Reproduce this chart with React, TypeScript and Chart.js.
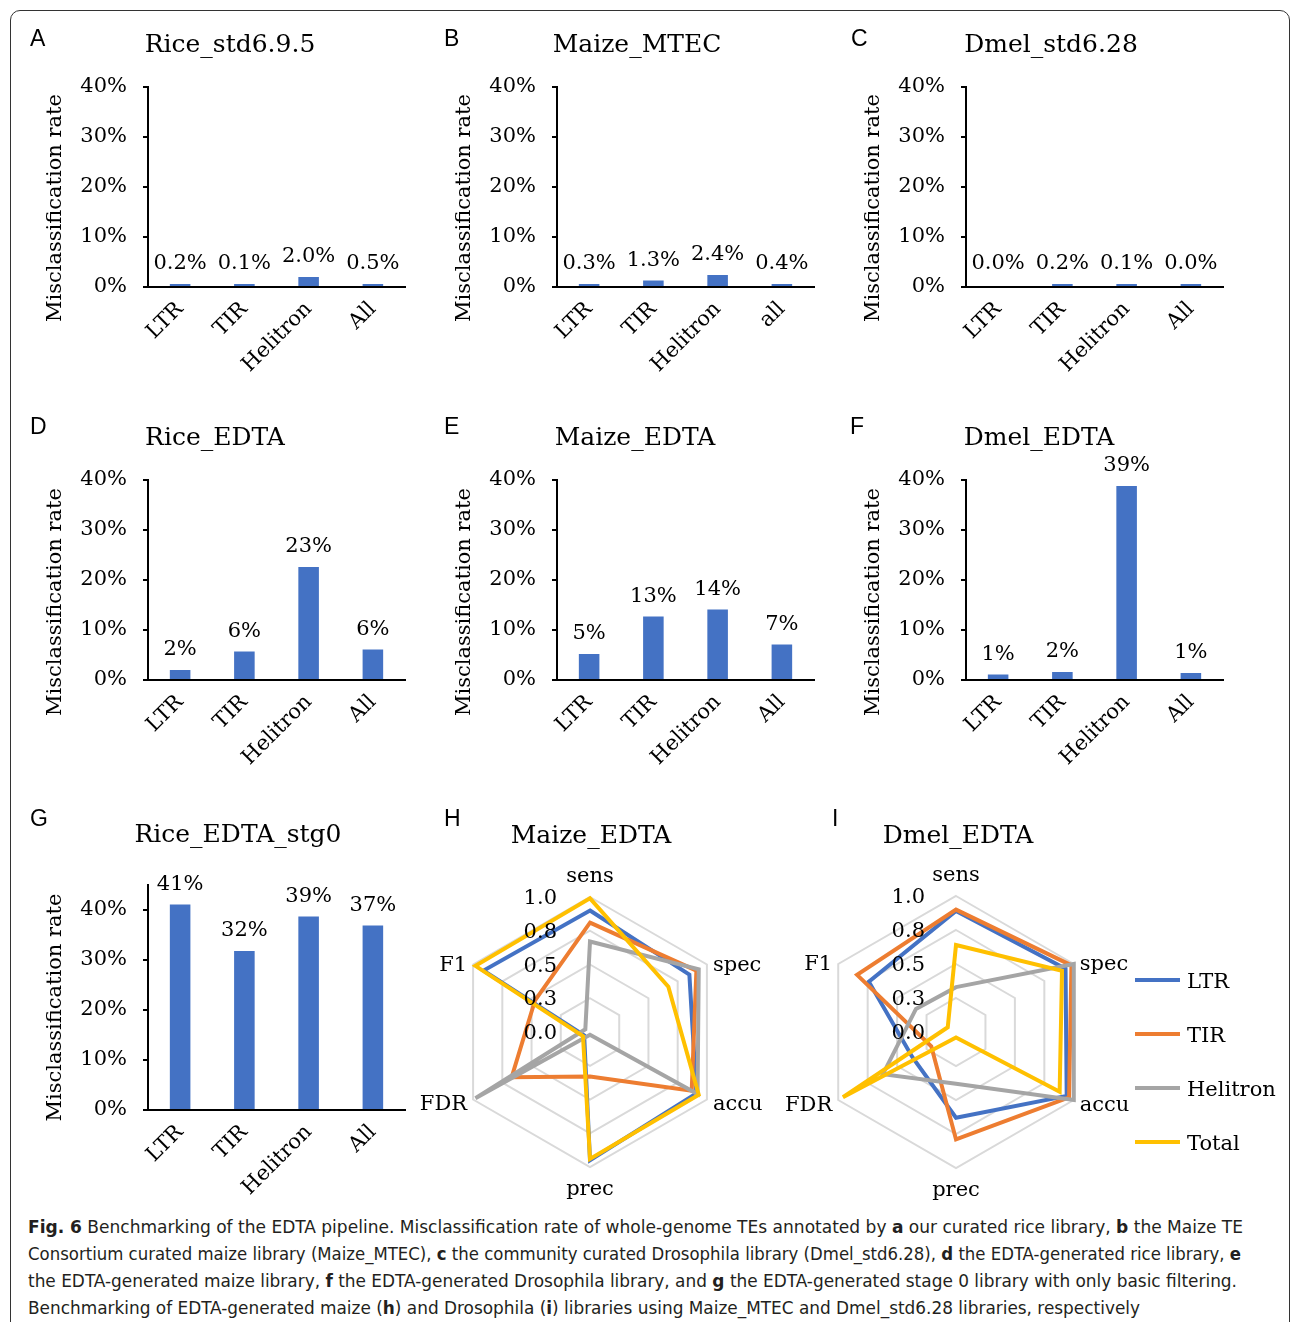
import React, { useEffect, useLayoutEffect, useRef } from "react";
import { Chart, registerables } from "chart.js";

Chart.register(...registerables);

const SERIF = '"DejaVu Serif", serif';
const SANS = '"Liberation Sans", Arial, sans-serif';
const CAPTION_FONT = '"Liberation Sans Narrow", "DejaVu Sans Condensed", "DejaVu Sans", sans-serif';
const BAR_BLUE = "#4472C4";

// ---------------- data ----------------
const categories = ["LTR", "TIR", "Helitron", "All"];
const categoriesMTEC = ["LTR", "TIR", "Helitron", "all"];

const riceStd695 = [0.2, 0.1, 2.0, 0.5];
const maizeMTEC = [0.3, 1.3, 2.4, 0.4];
const dmelStd628 = [0.0, 0.2, 0.1, 0.04];
const riceEDTA = [2.0, 5.7, 22.6, 6.1];
const maizeEDTA = [5.2, 12.7, 14.1, 7.1];
const dmelEDTA = [1.1, 1.6, 38.8, 1.4];
const riceEDTAstg0 = [41.1, 31.8, 38.7, 36.9];

const radarAxes = ["sens", "spec", "accu", "prec", "FDR", "F1"];
const radarSeries = ["LTR", "TIR", "Helitron", "Total"];
const radarColors = ["#4472C4", "#ED7D31", "#A5A5A5", "#FFC000"];
const radarTickStep = 0.25;

const maizeRadarLTR = [0.9, 0.85, 0.91, 0.95, 0.05, 0.91];
const maizeRadarTIR = [0.81, 0.91, 0.87, 0.33, 0.67, 0.47];
const maizeRadarHelitron = [0.67, 0.93, 0.92, 0.02, 0.98, 0.04];
const maizeRadarTotal = [0.99, 0.67, 0.93, 0.94, 0.06, 0.98];

const dmelRadarLTR = [0.89, 0.93, 0.94, 0.63, 0.37, 0.74];
const dmelRadarTIR = [0.9, 0.98, 0.96, 0.79, 0.21, 0.84];
const dmelRadarHelitron = [0.33, 1.0, 1.0, 0.38, 0.62, 0.34];
const dmelRadarTotal = [0.64, 0.9, 0.88, 0.04, 0.96, 0.07];

// ---------------- plugins ----------------
const barLabelPlugin = {
  id: "barLabels",
  afterDatasetsDraw(chart: any, _args: any, opts: any) {
    const { ctx } = chart;
    const meta = chart.getDatasetMeta(0);
    const ds = chart.data.datasets[0];
    ctx.save();
    ctx.font = `21px ${SERIF}`;
    ctx.fillStyle = "#000";
    ctx.textAlign = "center";
    ctx.textBaseline = "alphabetic";
    meta.data.forEach((bar: any, i: number) => {
      const v = ds.data[i] as number;
      ctx.fillText(v.toFixed(opts.decimals) + "%", bar.x, bar.y - opts.gap);
    });
    ctx.restore();
  },
};

const yTitlePlugin = {
  id: "yTitle",
  afterDraw(chart: any, _args: any, opts: any) {
    const { ctx, chartArea } = chart;
    ctx.save();
    ctx.translate(opts.x, (chartArea.top + chartArea.bottom) / 2 + opts.dy);
    ctx.rotate(-Math.PI / 2);
    ctx.font = `21px ${SERIF}`;
    ctx.fillStyle = "#000";
    ctx.textAlign = "center";
    ctx.textBaseline = "middle";
    ctx.fillText(opts.text, 0, 0);
    ctx.restore();
  },
};

const radarDecorPlugin = {
  id: "radarDecor",
  afterDatasetsDraw(chart: any, _args: any, opts: any) {
    const { ctx } = chart;
    const scale = chart.scales.r;
    const xc = scale.xCenter;
    const yc = scale.yCenter;
    ctx.save();
    ctx.font = `21px ${SERIF}`;
    ctx.fillStyle = "#000";
    // tick labels
    ctx.textAlign = "right";
    ctx.textBaseline = "alphabetic";
    scale.ticks.forEach((t: any) => {
      const d = scale.getDistanceFromCenterForValue(t.value);
      ctx.fillText(t.value.toFixed(1), xc - opts.tickOffset, yc - d + 7);
    });
    // point labels
    (chart.data.labels as string[]).forEach((lbl, i) => {
      const p = scale.getPointPosition(i, scale.drawingArea);
      const dx = p.x - xc;
      if (Math.abs(dx) < 1) {
        ctx.textAlign = "center";
        if (p.y < yc) ctx.fillText(lbl, p.x, p.y - 15);
        else ctx.fillText(lbl, p.x, p.y + 28);
      } else {
        ctx.textAlign = dx > 0 ? "left" : "right";
        const yOff = p.y < yc ? 6 : 10.5;
        ctx.fillText(lbl, p.x + (dx > 0 ? 6 : -6), p.y + yOff);
      }
    });
    // legend
    if (opts.legend) {
      const { x, y, step, lineLen, gap } = opts.legend;
      chart.data.datasets.forEach((ds: any, i: number) => {
        const ly = y + i * step;
        ctx.strokeStyle = ds.borderColor;
        ctx.lineWidth = 4;
        ctx.beginPath();
        ctx.moveTo(x, ly);
        ctx.lineTo(x + lineLen, ly);
        ctx.stroke();
        ctx.textAlign = "left";
        ctx.fillText(ds.label, x + lineLen + gap, ly + 8);
      });
    }
    ctx.restore();
  },
};

// ---------------- panels ----------------
type BarCfg = {
  letter: string;
  title: string;
  cats: string[];
  values: number[];
  decimals: number;
  axisX: number;
  top: number;
  height: number;
  padTop: number;
  plotH: number;
  max: number;
  titleCx: number;
  titleBase: number;
  letterX: number;
  letterY: number;
  yTitleDy: number;
};

const barPanels: BarCfg[] = [
  { letter: "A", title: "Rice_std6.9.5", cats: categories, values: riceStd695, decimals: 1, axisX: 148, top: 20, height: 380, padTop: 67, plotH: 200, max: 40, titleCx: 230, titleBase: 52, letterX: 30, letterY: 30, yTitleDy: 21 },
  { letter: "B", title: "Maize_MTEC", cats: categoriesMTEC, values: maizeMTEC, decimals: 1, axisX: 557, top: 20, height: 380, padTop: 67, plotH: 200, max: 40, titleCx: 637, titleBase: 52, letterX: 444, letterY: 30, yTitleDy: 21 },
  { letter: "C", title: "Dmel_std6.28", cats: categories, values: dmelStd628, decimals: 1, axisX: 966, top: 20, height: 380, padTop: 67, plotH: 200, max: 40, titleCx: 1051, titleBase: 52, letterX: 851, letterY: 30, yTitleDy: 21 },
  { letter: "D", title: "Rice_EDTA", cats: categories, values: riceEDTA, decimals: 0, axisX: 148, top: 415, height: 380, padTop: 65, plotH: 200, max: 40, titleCx: 215, titleBase: 445, letterX: 30, letterY: 418, yTitleDy: 22 },
  { letter: "E", title: "Maize_EDTA", cats: categories, values: maizeEDTA, decimals: 0, axisX: 557, top: 415, height: 380, padTop: 65, plotH: 200, max: 40, titleCx: 635, titleBase: 445, letterX: 444, letterY: 418, yTitleDy: 22 },
  { letter: "F", title: "Dmel_EDTA", cats: categories, values: dmelEDTA, decimals: 0, axisX: 966, top: 415, height: 380, padTop: 65, plotH: 200, max: 40, titleCx: 1039, titleBase: 445, letterX: 850, letterY: 418, yTitleDy: 22 },
  { letter: "G", title: "Rice_EDTA_stg0", cats: categories, values: riceEDTAstg0, decimals: 0, axisX: 148, top: 810, height: 395, padTop: 75, plotH: 225, max: 45, titleCx: 238, titleBase: 842, letterX: 30, letterY: 810, yTitleDy: 10 },
];

type RadarCfg = {
  letter: string;
  title: string;
  series: number[][];
  left: number;
  top: number;
  width: number;
  height: number;
  pad: { left: number; top: number; right: number; bottom: number };
  tickOffset: number;
  titleCx: number;
  titleBase: number;
  letterX: number;
  letterY: number;
  legend?: { x: number; y: number; step: number; lineLen: number; gap: number };
};

const radarPanels: RadarCfg[] = [
  {
    letter: "H", title: "Maize_EDTA",
    series: [maizeRadarLTR, maizeRadarTIR, maizeRadarHelitron, maizeRadarTotal],
    left: 410, top: 800, width: 390, height: 400,
    pad: { left: 45, top: 97, right: 75, bottom: 33 },
    tickOffset: 33, titleCx: 591, titleBase: 843, letterX: 444, letterY: 810,
  },
  {
    letter: "I", title: "Dmel_EDTA",
    series: [dmelRadarLTR, dmelRadarTIR, dmelRadarHelitron, dmelRadarTotal],
    left: 770, top: 800, width: 522, height: 400,
    pad: { left: 50, top: 96, right: 200, bottom: 32 },
    tickOffset: 31, titleCx: 958, titleBase: 843, letterX: 832, letterY: 810,
    legend: { x: 365, y: 180, step: 54, lineLen: 45, gap: 7 },
  },
];

const tickFont = { family: SERIF, size: 21 };

function BarPanel({ cfg }: { cfg: BarCfg }) {
  const ref = useRef<HTMLCanvasElement>(null);
  useEffect(() => {
    const xHeight = cfg.height - cfg.padTop - cfg.plotH;
    const chart = new Chart(ref.current as HTMLCanvasElement, {
      type: "bar",
      data: {
        labels: cfg.cats,
        datasets: [
          {
            data: cfg.values,
            backgroundColor: (c: any) => (c.raw > 0 ? BAR_BLUE : "rgba(0,0,0,0)"),
            barPercentage: 0.32,
            categoryPercentage: 1,
            minBarLength: 3,
          },
        ],
      },
      options: {
        responsive: false,
        animation: false,
        devicePixelRatio: 1,
        layout: { padding: { top: cfg.padTop, right: 35, bottom: 0, left: 0 } },
        plugins: {
          legend: { display: false },
          tooltip: { enabled: false },
          title: { display: false },
          barLabels: { decimals: cfg.decimals, gap: 15 },
          yTitle: { text: "Misclassification rate", x: 36, dy: cfg.yTitleDy },
        } as any,
        scales: {
          x: {
            grid: { display: false },
            border: { color: "#000", width: 2 },
            ticks: { font: tickFont, color: "#000", minRotation: 45, maxRotation: 45, autoSkip: false, padding: 2 },
            afterFit: (s: any) => {
              s.height = xHeight;
            },
          },
          y: {
            min: 0,
            max: cfg.max,
            grid: { drawOnChartArea: false, drawTicks: true, tickLength: 5, color: "#000", lineWidth: 2 },
            border: { color: "#000", width: 2 },
            ticks: {
              stepSize: 10,
              includeBounds: false,
              padding: 16,
              font: tickFont,
              color: "#000",
              callback: (v: any) => `${v}%`,
            },
            afterFit: (s: any) => {
              s.width = 128;
            },
          },
        },
      } as any,
      plugins: [barLabelPlugin, yTitlePlugin],
    });
    return () => chart.destroy();
  }, []);
  return (
    <canvas
      ref={ref}
      width={420}
      height={cfg.height}
      style={{ position: "absolute", left: cfg.axisX - 128, top: cfg.top, width: 420, height: cfg.height }}
    />
  );
}

function RadarPanel({ cfg }: { cfg: RadarCfg }) {
  const ref = useRef<HTMLCanvasElement>(null);
  useEffect(() => {
    const chart = new Chart(ref.current as HTMLCanvasElement, {
      type: "radar",
      data: {
        labels: radarAxes,
        datasets: cfg.series.map((vals, i) => ({
          label: radarSeries[i],
          data: vals,
          borderColor: radarColors[i],
          backgroundColor: radarColors[i],
          borderWidth: 4,
          pointRadius: 0,
          fill: false,
          tension: 0,
          order: radarSeries.length - i,
        })),
      },
      options: {
        responsive: false,
        animation: false,
        devicePixelRatio: 1,
        layout: { padding: cfg.pad },
        plugins: {
          legend: { display: false },
          tooltip: { enabled: false },
          radarDecor: { tickOffset: cfg.tickOffset, legend: cfg.legend },
        } as any,
        scales: {
          r: {
            min: 0,
            max: 1,
            ticks: { display: false, stepSize: radarTickStep },
            grid: { color: "#D9D9D9", lineWidth: 2 },
            angleLines: { display: false },
            pointLabels: { display: false },
          },
        },
      } as any,
      plugins: [radarDecorPlugin],
    });
    return () => chart.destroy();
  }, []);
  return (
    <canvas
      ref={ref}
      width={cfg.width}
      height={cfg.height}
      style={{ position: "absolute", left: cfg.left, top: cfg.top, width: cfg.width, height: cfg.height }}
    />
  );
}

function Title({ text, cx, base }: { text: string; cx: number; base: number }) {
  return (
    <div
      style={{
        position: "absolute",
        left: cx,
        top: base - 21,
        transform: "translateX(-50%)",
        fontFamily: SERIF,
        fontSize: 25,
        lineHeight: "25px",
        whiteSpace: "nowrap",
        color: "#000",
      }}
    >
      {text}
    </div>
  );
}

function Letter({ text, x, y }: { text: string; x: number; y: number }) {
  return (
    <div
      style={{
        position: "absolute",
        left: x,
        top: y - 3,
        fontFamily: SANS,
        fontSize: 23,
        lineHeight: "23px",
        color: "#000",
      }}
    >
      {text}
    </div>
  );
}

function CaptionLine({ top, target, children }: { top: number; target: number; children: React.ReactNode }) {
  const ref = useRef<HTMLDivElement>(null);
  useLayoutEffect(() => {
    const el = ref.current as HTMLDivElement;
    const w = el.getBoundingClientRect().width;
    if (w > 0) el.style.transform = `scaleX(${target / w})`;
  }, []);
  return (
    <div
      ref={ref}
      style={{
        position: "absolute",
        left: 28,
        top,
        whiteSpace: "nowrap",
        transformOrigin: "left top",
        fontFamily: CAPTION_FONT,
        fontStretch: "condensed",
        fontSize: 18.5,
        lineHeight: "22px",
        color: "#231F20",
      }}
    >
      {children}
    </div>
  );
}

export default function App() {
  return (
    <div
      style={{
        position: "absolute",
        left: 0,
        top: 0,
        width: 1292,
        height: 1322,
        overflow: "hidden",
        background: "#fff",
      }}
    >
      <div
        style={{
          position: "absolute",
          left: 10,
          top: 10,
          width: 1280,
          height: 1340,
          border: "1.5px solid #333",
          borderRadius: 10,
          boxSizing: "border-box",
        }}
      />
      {barPanels.map((p) => (
        <React.Fragment key={p.letter}>
          <BarPanel cfg={p} />
          <Title text={p.title} cx={p.titleCx} base={p.titleBase} />
          <Letter text={p.letter} x={p.letterX} y={p.letterY} />
        </React.Fragment>
      ))}
      {radarPanels.map((p) => (
        <React.Fragment key={p.letter}>
          <RadarPanel cfg={p} />
          <Title text={p.title} cx={p.titleCx} base={p.titleBase} />
          <Letter text={p.letter} x={p.letterX} y={p.letterY} />
        </React.Fragment>
      ))}
      <CaptionLine top={1216} target={1215}>
        <b>Fig. 6</b> Benchmarking of the EDTA pipeline. Misclassification rate of whole-genome TEs annotated by <b>a</b> our curated rice library, <b>b</b> the Maize TE
      </CaptionLine>
      <CaptionLine top={1243} target={1213}>
        Consortium curated maize library (Maize_MTEC), <b>c</b> the community curated Drosophila library (Dmel_std6.28), <b>d</b> the EDTA-generated rice library, <b>e</b>
      </CaptionLine>
      <CaptionLine top={1270} target={1209}>
        the EDTA-generated maize library, <b>f</b> the EDTA-generated Drosophila library, and <b>g</b> the EDTA-generated stage 0 library with only basic filtering.
      </CaptionLine>
      <CaptionLine top={1297} target={1112}>
        Benchmarking of EDTA-generated maize (<b>h</b>) and Drosophila (<b>i</b>) libraries using Maize_MTEC and Dmel_std6.28 libraries, respectively
      </CaptionLine>
    </div>
  );
}
